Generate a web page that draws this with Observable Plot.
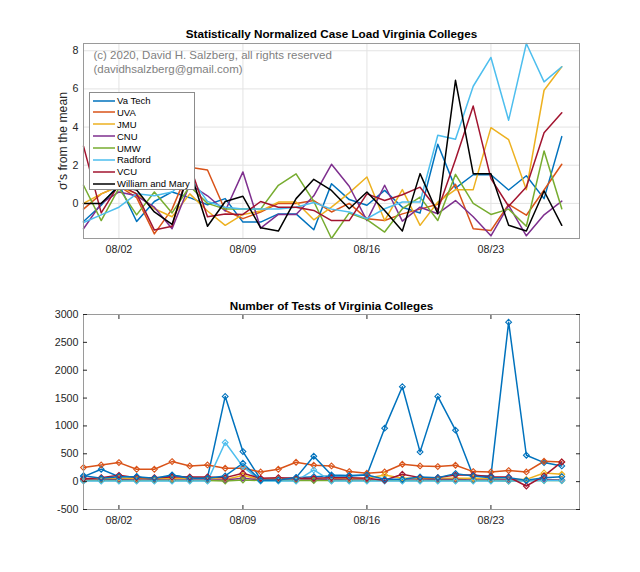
<!DOCTYPE html>
<html>
<head>
<meta charset="utf-8">
<script src="https://cdn.jsdelivr.net/npm/d3@7"></script>
<script src="https://cdn.jsdelivr.net/npm/@observablehq/plot@0.6"></script>
<style>
  body { margin: 0; background: #fff; }
  #wrap { position: relative; width: 640px; height: 572px; font-family: "Liberation Sans", Arial, sans-serif; }
  #legend { position: absolute; left: 89px; top: 92px; width: 106px; height: 98px; border: 1px solid #8c8c8c; background: #fff; box-sizing: border-box; }
  .lrow { position: absolute; left: 3px; height: 12px; display: flex; align-items: center; font-size: 9.5px; color: #000; white-space: nowrap; }
  .lrow svg { margin-right: 2px; }
</style>
</head>
<body>
<div id="wrap">
  <div id="top"></div>
  <div id="bottom"></div>
  <div id="legend"></div>
</div>
<script>
// ---------- data ----------
const dates = ["2020-07-31","2020-08-01","2020-08-02","2020-08-03","2020-08-04","2020-08-05","2020-08-06",
  "2020-08-07","2020-08-08","2020-08-09","2020-08-10","2020-08-11","2020-08-12","2020-08-13",
  "2020-08-14","2020-08-15","2020-08-16","2020-08-17","2020-08-18","2020-08-19","2020-08-20",
  "2020-08-21","2020-08-22","2020-08-23","2020-08-24","2020-08-25","2020-08-26","2020-08-27"];
const names = ["Va Tech","UVA","JMU","CNU","UMW","Radford","VCU","William and Mary"];
const colorsTop = ["#0072BD","#D95319","#EDB120","#7E2F8E","#77AC30","#4DBEEE","#A2142F","#000000"];
const colorsBottom = ["#0072BD","#D95319","#EDB120","#7E2F8E","#77AC30","#4DBEEE","#A2142F","#0072BD"];

const titleTop = "Statistically Normalized Case Load Virginia Colleges";
const titleBottom = "Number of Tests of Virginia Colleges";
const yLabelTop = "\u03c3's from the mean";
const copyright = "(c) 2020, David H. Salzberg, all rights reserved\n(davidhsalzberg@gmail.com)";

const xTickDates = ["2020-08-02","2020-08-09","2020-08-16","2020-08-23"];
const yTicksTop = [0, 2, 4, 6, 8];
const yTicksBottom = [-500, 0, 500, 1000, 1500, 2000, 2500, 3000];

// sigma values (top chart)
const sigmaVaTech = [-0.95,-0.1,1.0,-0.95,0.1,0.6,0.3,-0.07,0.25,-0.98,-0.98,-0.55,-0.55,-1.38,1.03,0.2,-0.1,0.68,-0.2,-0.5,3.1,0.8,1.5,1.5,0.7,1.45,0.25,3.5];
const sigmaUVA    = [-0.3,0.5,0.9,0.3,-1.6,-0.3,1.9,1.75,-0.37,-0.8,-0.45,0.0,0.0,0.15,-0.45,0.0,-0.8,-0.9,-0.55,-0.3,-0.05,1.0,-1.33,-1.42,-0.05,-0.62,0.7,2.05];
const sigmaJMU    = [0.0,0.5,0.9,0.5,-0.28,-0.7,0.5,-0.4,-1.15,-0.58,-0.4,0.07,0.07,-0.86,-0.2,0.55,1.38,-0.9,0.72,-1.15,0.07,0.72,0.72,3.97,3.34,0.72,5.93,7.16];
const sigmaCNU    = [-1.33,0.0,0.6,0.4,-0.2,-1.33,1.0,0.4,-0.4,1.65,-1.3,-0.58,-0.58,0.4,2.05,0.9,-0.9,0.95,-0.93,-0.2,-0.54,0.15,-0.7,-1.7,-0.1,-1.7,-0.6,0.12];
const sigmaUMW    = [0.95,-0.9,0.8,-0.6,0.6,-0.5,0.9,0.0,-0.3,-0.3,-0.3,0.95,1.55,0.1,-1.84,-0.5,-0.85,-1.5,-0.28,0.33,-0.9,1.52,0.0,-0.58,-0.3,-1.2,2.75,-0.28];
const sigmaRadford= [-1.0,-0.6,-0.2,0.5,0.4,0.6,1.4,0.1,-0.2,-0.3,-0.3,-0.3,-0.2,0.05,-0.3,-0.45,-0.8,-0.28,0.07,0.07,3.57,3.36,6.14,7.65,4.36,8.38,6.37,7.16];
const sigmaVCU    = [3.0,-0.5,1.0,0.5,-1.4,-1.2,2.0,-0.7,-0.55,-0.58,0.1,-0.2,-0.2,-0.37,-0.9,-0.9,0.5,0.15,0.45,0.85,-0.35,2.3,5.1,1.3,-0.15,0.86,3.7,4.75];
const sigmaWM     = [0.0,0.0,0.9,0.7,-0.45,-1.1,1.75,-1.2,0.1,0.37,-1.28,-1.45,0.25,1.26,0.68,-0.28,0.6,-0.37,-1.45,1.56,-0.54,6.45,1.56,1.56,-1.15,-1.45,0.65,-1.15];

// number of tests (bottom chart)
const testsVaTech = [90,222,90,90,30,114,72,72,1530,540,42,42,72,90,102,102,120,960,1704,534,1530,924,102,102,2862,474,342,282];
const testsUVA    = [252,300,342,222,222,360,282,300,240,240,174,222,348,294,282,180,150,174,312,282,270,294,180,174,198,174,366,354];
const testsJMU    = [40,50,60,55,50,55,60,60,40,110,40,50,50,40,50,50,60,120,60,60,60,60,60,50,40,40,156,132];
const testsCNU    = [30,30,40,30,30,30,30,30,30,60,30,30,30,30,40,30,30,30,30,30,40,40,30,30,30,20,40,30];
const testsUMW    = [20,20,20,20,20,20,20,20,10,30,20,20,20,20,20,20,20,20,20,20,20,20,20,20,10,20,20,20];
const testsRadford= [10,10,10,10,10,10,10,10,702,270,10,10,10,210,10,10,10,10,10,10,10,10,10,10,10,10,20,20];
const testsVCU    = [54,72,114,72,72,84,84,84,72,150,60,72,60,60,72,72,60,24,132,72,72,120,120,90,84,-78,102,354];
const testsWM     = [108,60,90,90,60,120,60,60,102,330,24,30,72,456,120,110,120,42,42,84,72,144,102,72,72,24,72,90];

// ---------- tables ----------
const sigmaSeries = [sigmaVaTech, sigmaUVA, sigmaJMU, sigmaCNU, sigmaUMW, sigmaRadford, sigmaVCU, sigmaWM];
const testSeries = [testsVaTech, testsUVA, testsJMU, testsCNU, testsUMW, testsRadford, testsVCU, testsWM];
const parsedDates = dates.map(s => new Date(s));
const xTicks = xTickDates.map(s => new Date(s));
const toRows = (series) => series.flatMap((vals, k) => vals.map((v, i) => ({name: names[k], date: parsedDates[i], value: v})));
const topRows = toRows(sigmaSeries);
const bottomRows = toRows(testSeries);

const fmtDate = d3.utcFormat("%m/%d");
const font = "'Liberation Sans', Arial, Helvetica, sans-serif";
const xDomain = [new Date("2020-07-31"), new Date("2020-08-28")];

// ---------- top chart ----------
const topPlot = Plot.plot({
  width: 640, height: 280,
  marginLeft: 83, marginRight: 61, marginTop: 43, marginBottom: 42,
  style: {fontFamily: font, fontSize: "10.7px", color: "#262626", background: "#fff", overflow: "visible"},
  x: {type: "utc", domain: xDomain},
  y: {domain: [-1.84, 8.38]},
  color: {domain: names, range: colorsTop},
  marks: [
    Plot.gridX({ticks: xTicks, stroke: "#e3e3e3", strokeOpacity: 1}),
    Plot.gridY({ticks: yTicksTop, stroke: "#e3e3e3", strokeOpacity: 1}),
    Plot.line(topRows, {x: "date", y: "value", z: "name", stroke: "name", strokeWidth: 1.5}),
    Plot.frame({stroke: "#9a9a9a"}),
    Plot.axisX({ticks: xTicks, tickFormat: fmtDate, tickSize: 0, tickPadding: 7, label: null}),
    Plot.axisY({ticks: yTicksTop, tickFormat: d => String(d), tickSize: 0, tickPadding: 5, label: null}),
    Plot.text([titleTop], {text: d => d, frameAnchor: "top", dy: -9, lineAnchor: "middle", textAnchor: "middle", fontWeight: "bold", fontSize: 11.7, fill: "#000"}),
    Plot.text([copyright], {text: d => d, frameAnchor: "top-left", dx: 10, dy: 6, textAnchor: "start", lineAnchor: "top", fontSize: 11.5, lineHeight: 1.17, fill: "#7f7f7f"}),
    Plot.text([yLabelTop], {text: d => d, frameAnchor: "left", dx: -20, rotate: -90, textAnchor: "middle", lineAnchor: "middle", fontSize: 12.2, fill: "#262626"})
  ]
});
document.getElementById("top").appendChild(topPlot);

// ---------- bottom chart ----------
const bottomPlot = Plot.plot({
  width: 640, height: 292,
  marginLeft: 83, marginRight: 61, marginTop: 34, marginBottom: 63,
  style: {fontFamily: font, fontSize: "10.7px", color: "#262626", background: "#fff", overflow: "visible"},
  x: {type: "utc", domain: xDomain},
  y: {domain: [-500, 3000]},
  color: {domain: names, range: colorsBottom},
  marks: [
    Plot.line(bottomRows, {x: "date", y: "value", z: "name", stroke: "name", strokeWidth: 1.5}),
    Plot.dot(bottomRows, {x: "date", y: "value", stroke: "name", symbol: "diamond2", r: 2.6, fill: "none", strokeWidth: 1.1}),
    Plot.frame({stroke: "#9a9a9a"}),
    Plot.axisX({ticks: xTicks, tickFormat: fmtDate, tickSize: -4, tickPadding: 10.5, label: null, stroke: "#262626"}),
    Plot.axisX({ticks: xTicks, anchor: "top", tickFormat: () => "", tickSize: -4, label: null}),
    Plot.axisY({ticks: yTicksBottom, tickFormat: d => String(d), tickSize: -4, tickPadding: 9, label: null}),
    Plot.axisY({ticks: yTicksBottom, anchor: "right", tickFormat: () => "", tickSize: -4, label: null}),
    Plot.text([titleBottom], {text: d => d, frameAnchor: "top", dy: -8, lineAnchor: "middle", textAnchor: "middle", fontWeight: "bold", fontSize: 11.7, fill: "#000"})
  ]
});
document.getElementById("bottom").appendChild(bottomPlot);

// ---------- legend (top chart) ----------
const legend = d3.select("#legend");
names.forEach((n, i) => {
  const row = legend.append("div").attr("class", "lrow").style("top", (1.6 + i * 11.85) + "px");
  const sw = row.append("svg").attr("width", 22).attr("height", 4);
  sw.append("line").attr("x1", 0).attr("x2", 22).attr("y1", 2).attr("y2", 2)
    .attr("stroke", colorsTop[i]).attr("stroke-width", 1.5);
  row.append("span").text(n);
});
</script>
</body>
</html>
